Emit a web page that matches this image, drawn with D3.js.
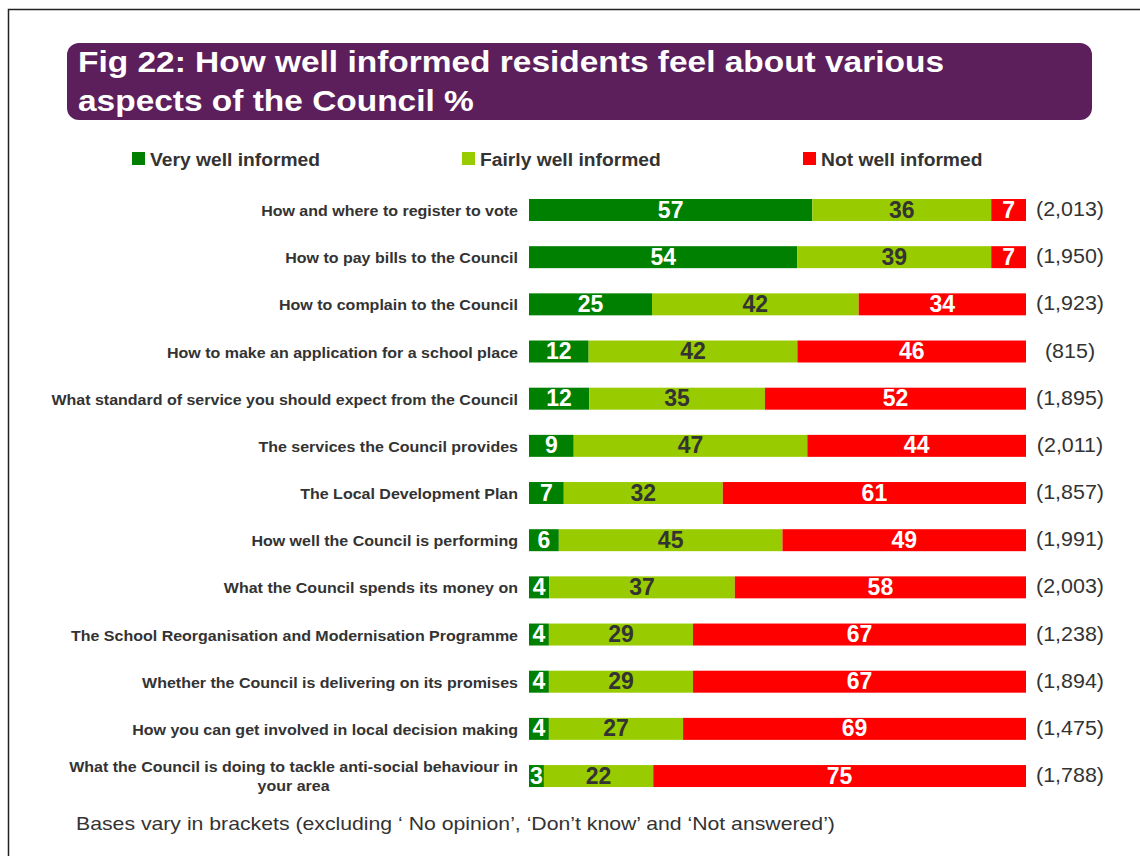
<!DOCTYPE html>
<html><head><meta charset="utf-8">
<script src="https://cdn.jsdelivr.net/npm/d3@7"></script>
<style>body{margin:0;background:#fff;font-family:"Liberation Sans",Arial,sans-serif;} svg text{font-family:"Liberation Sans",Arial,sans-serif;}</style>
</head><body><svg id="c" width="1140" height="856"></svg>
<script>
const categories = [
  "How and where to register to vote",
  "How to pay bills to the Council",
  "How to complain to the Council",
  "How to make an application for a school place",
  "What standard of service you should expect from the Council",
  "The services the Council provides",
  "The Local Development Plan",
  "How well the Council is performing",
  "What the Council spends its money on",
  "The School Reorganisation and Modernisation Programme",
  "Whether the Council is delivering on its promises",
  "How you can get involved in local decision making",
  "What the Council is doing to tackle anti-social behaviour in your area"
];
const veryWell   = [57,54,25,12,12,9,7,6,4,4,4,4,3];
const fairlyWell = [36,39,42,42,35,47,32,45,37,29,29,27,22];
const notWell    = [7,7,34,46,52,44,61,49,58,67,67,69,75];
const bases = ["(2,013)","(1,950)","(1,923)","(815)","(1,895)","(2,011)","(1,857)","(1,991)","(2,003)","(1,238)","(1,894)","(1,475)","(1,788)"];
const seriesNames = ["Very well informed","Fairly well informed","Not well informed"];
const colors = ["#008000","#99CC00","#FF0000"];
const labelColors = ["#ffffff","#333333","#ffffff"];

const svg = d3.select("#c");

function txt(parent, x, y, str, o) {
  const g = parent.append("g").attr("transform", `translate(${x},${y}) scale(${o.sx||1},1)`);
  return g.append("text").attr("x",0).attr("y",0)
    .attr("font-size", o.size).attr("font-weight", o.weight||"normal")
    .attr("fill", o.fill||"#333").attr("text-anchor", o.anchor||"start").text(str);
}

// frame
svg.append("rect").attr("x",8.5).attr("y",9.5).attr("width",1140).attr("height",900)
  .attr("fill","none").attr("stroke","#222").attr("stroke-width",1.5);

// title box
svg.append("rect").attr("x",67).attr("y",43).attr("width",1025).attr("height",77).attr("rx",12)
  .attr("fill","#5C1F5C");
txt(svg, 78, 72, "Fig 22: How well informed residents feel about various", {size:30, weight:"bold", fill:"#fff", sx:1.115});
txt(svg, 78, 111, "aspects of the Council %", {size:30, weight:"bold", fill:"#fff", sx:1.115});

// legend
const legX = [132,462,803];
seriesNames.forEach((n,i)=>{
  svg.append("rect").attr("x",legX[i]).attr("y",152).attr("width",13).attr("height",13).attr("fill",colors[i]);
  txt(svg, legX[i]+18, 166, n, {size:18, weight:"bold", fill:"#333", sx:1.07});
});

const data = categories.map((c,i)=>({cat:c, v0:veryWell[i], v1:fairlyWell[i], v2:notWell[i], base:bases[i]}));
const keys = ["v0","v1","v2"];
const stack = d3.stack().keys(keys).offset(d3.stackOffsetExpand);
const layers = stack(data);

const x = d3.scaleLinear().domain([0,1]).range([529,1026]);
const step = 47.17;
const y = d3.scaleBand().domain(categories).range([210-step/2, 210-step/2+step*13]).paddingInner(0.534).paddingOuter(0.267);

layers.forEach((layer,k)=>{
  const g = svg.append("g");
  g.selectAll("rect").data(layer).join("rect")
    .attr("x",d=>x(d[0])).attr("y",d=>y(d.data.cat))
    .attr("width",d=>x(d[1])-x(d[0])).attr("height",y.bandwidth())
    .attr("fill",colors[k]);
  g.selectAll("text").data(layer).join("text")
    .attr("x",d=>(x(d[0])+x(d[1]))/2).attr("y",d=>y(d.data.cat)+y.bandwidth()/2+7.5)
    .attr("text-anchor","middle").attr("font-size",23).attr("font-weight","bold")
    .attr("fill",labelColors[k]).text(d=>d.data[keys[k]]);
});

// category labels
const labSx = 1.067;
data.forEach(d=>{
  const cy = y(d.cat)+y.bandwidth()/2;
  if (d.cat.length>65) {
    const l1 = "What the Council is doing to tackle anti-social behaviour in", l2 = "your area";
    const t1 = txt(svg, 0, 0, l1, {size:15, weight:"bold", anchor:"middle", sx:labSx});
    const w1 = t1.node().getComputedTextLength()*labSx;
    const cx = 518 - w1/2;
    d3.select(t1.node().parentNode).attr("transform", `translate(${cx},${cy-4}) scale(${labSx},1)`);
    txt(svg, cx, cy+15, l2, {size:15, weight:"bold", anchor:"middle", sx:labSx});
  } else {
    txt(svg, 518, cy+6, d.cat, {size:15, weight:"bold", anchor:"end", sx:labSx});
  }
  txt(svg, 1070, cy+6, d.base, {size:19.5, anchor:"middle", sx:1.1});
});

txt(svg, 76, 830, "Bases vary in brackets (excluding \u2018 No opinion\u2019, \u2018Don\u2019t know\u2019 and \u2018Not answered\u2019)", {size:18, sx:1.18});
</script></body></html>
